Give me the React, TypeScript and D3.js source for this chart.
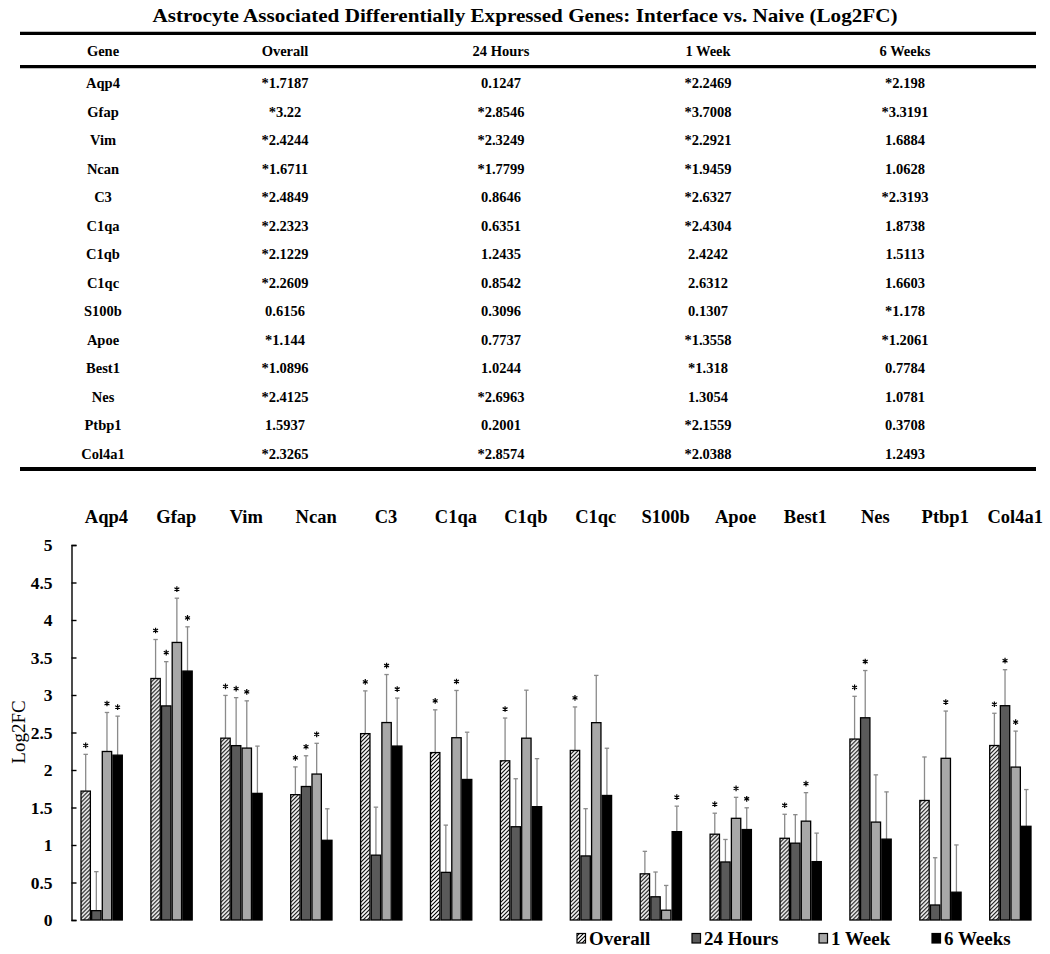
import React, { useEffect, useRef } from "react";
import * as d3 from "d3";

const genes = ["Aqp4", "Gfap", "Vim", "Ncan", "C3", "C1qa", "C1qb", "C1qc", "S100b", "Apoe", "Best1", "Nes", "Ptbp1", "Col4a1"];
const seriesNames = ["Overall", "24 Hours", "1 Week", "6 Weeks"];

const overall = [1.7187, 3.22, 2.4244, 1.6711, 2.4849, 2.2323, 2.1229, 2.2609, 0.6156, 1.144, 1.0896, 2.4125, 1.5937, 2.3265];
const hours24 = [0.1247, 2.8546, 2.3249, 1.7799, 0.8646, 0.6351, 1.2435, 0.8542, 0.3096, 0.7737, 1.0244, 2.6963, 0.2001, 2.8574];
const week1 = [2.2469, 3.7008, 2.2921, 1.9459, 2.6327, 2.4304, 2.4242, 2.6312, 0.1307, 1.3558, 1.318, 1.3054, 2.1559, 2.0388];
const weeks6 = [2.198, 3.3191, 1.6884, 1.0628, 2.3193, 1.8738, 1.5113, 1.6603, 1.178, 1.2061, 0.7784, 1.0781, 0.3708, 1.2493];

const overallSig = [true, true, true, true, true, true, true, true, false, true, true, true, false, true];
const hours24Sig = [false, true, true, true, false, false, false, false, false, false, false, true, false, true];
const week1Sig = [true, true, true, true, true, true, false, false, false, true, true, false, true, true];
const weeks6Sig = [true, true, false, false, true, false, false, false, true, true, false, false, false, false];

// error bar magnitudes (upper only)
const overallErr = [0.49, 0.52, 0.57, 0.37, 0.57, 0.57, 0.57, 0.58, 0.3, 0.28, 0.32, 0.57, 0.58, 0.43];
const hours24Err = [0.52, 0.59, 0.64, 0.41, 0.64, 0.63, 0.64, 0.63, 0.33, 0.3, 0.38, 0.63, 0.63, 0.48];
const week1Err = [0.52, 0.59, 0.63, 0.41, 0.64, 0.63, 0.64, 0.63, 0.33, 0.28, 0.38, 0.63, 0.63, 0.48];
const weeks6Err = [0.52, 0.59, 0.63, 0.42, 0.64, 0.63, 0.64, 0.63, 0.34, 0.29, 0.38, 0.63, 0.63, 0.49];

const yTicks = [0, 0.5, 1, 1.5, 2, 2.5, 3, 3.5, 4, 4.5, 5];

const title = "Astrocyte Associated Differentially Expressed Genes: Interface vs. Naive (Log2FC)";
const tableHeaders = ["Gene", "Overall", "24 Hours", "1 Week", "6 Weeks"];

const seriesValues = [overall, hours24, week1, weeks6];
const seriesSig = [overallSig, hours24Sig, week1Sig, weeks6Sig];
const seriesErr = [overallErr, hours24Err, week1Err, weeks6Err];
const seriesFill = ["url(#hatch)", "#5a5a5a", "#a8a8a8", "#000000"];

const TABLE_FONT = "'Liberation Serif', 'Times New Roman', serif";
const CHART_FONT = "'Liberation Serif', 'Times New Roman', serif";

export default function App() {
  const W = 1050;
  const H = 954;
  const yAxisRef = useRef<SVGGElement | null>(null);

  // table layout
  const colX = d3.scaleOrdinal<string, number>().domain(tableHeaders).range([103, 285, 501, 708, 905]);
  const rowY = d3.scaleLinear().domain([0, genes.length - 1]).range([88.3, 458.8]);

  // chart scales
  const y = d3.scaleLinear().domain([0, 5]).range([920, 545]);
  const xGene = d3.scaleBand<string>().domain(genes).range([71.5, 1050.1]);
  const xSeries = d3.scaleBand<string>().domain(seriesNames).range([9.5, 50.8]).paddingInner(0.12);
  const bw = xSeries.bandwidth();
  const asterisk = d3.symbol().type(d3.symbolAsterisk).size(22)() as string;

  useEffect(() => {
    if (!yAxisRef.current) return;
    const ax = d3
      .axisLeft(y)
      .tickValues(yTicks)
      .tickFormat((d) => String(d))
      .tickSizeInner(-5)
      .tickSizeOuter(-5)
      .tickPadding(19);
    const g = d3.select(yAxisRef.current);
    g.call(ax as any);
    g.attr("font-family", null).attr("font-size", null);
    g.select(".domain").attr("stroke", "#000").attr("stroke-width", 1.4);
    g.selectAll(".tick line").attr("stroke", "#000").attr("stroke-width", 1.4);
    g.selectAll(".tick text")
      .attr("font-family", CHART_FONT)
      .attr("font-size", 17.5)
      .attr("font-weight", "bold")
      .attr("fill", "#000");
  }, []);

  const fmt = (v: number, s: boolean) => `${s ? "*" : ""}${v}`;

  const legendX = [577, 692, 819, 932];

  return (
    <svg width={W} height={H} style={{ position: "absolute", left: 0, top: 0, background: "#fff" }}>
      <defs>
        <pattern id="hatch" patternUnits="userSpaceOnUse" width="4" height="4">
          <rect width="4" height="4" fill="#fff" />
          <path d="M-1,1 l2,-2 M0,4 l4,-4 M3,5 l2,-2" stroke="#000" strokeWidth="1.1" />
        </pattern>
      </defs>
      <rect width={W} height={H} fill="#fff" />

      {/* ---------- Table ---------- */}
      <text
        x={525}
        y={21.5}
        textAnchor="middle"
        fontFamily={TABLE_FONT}
        fontWeight="bold"
        fontSize={19.5}
        textLength={745}
        lengthAdjust="spacingAndGlyphs"
      >
        {title}
      </text>
      <line x1={20} x2={1036} y1={33.3} y2={33.3} stroke="#000" strokeWidth={3.2} />
      <line x1={20} x2={1036} y1={66.7} y2={66.7} stroke="#000" strokeWidth={3.2} />
      <line x1={20} x2={1036} y1={469} y2={469} stroke="#000" strokeWidth={4} />
      {tableHeaders.map((h) => (
        <text key={h} x={colX(h)} y={55.5} textAnchor="middle" fontFamily={TABLE_FONT} fontWeight="bold" fontSize={14.5}>
          {h}
        </text>
      ))}
      {genes.map((g, i) => (
        <g key={g} fontFamily={TABLE_FONT} fontWeight="bold" fontSize={14.5} textAnchor="middle">
          <text x={colX("Gene")} y={rowY(i)}>{g}</text>
          {seriesNames.map((s, si) => (
            <text key={s} x={colX(s)} y={rowY(i)}>
              {fmt(seriesValues[si][i], seriesSig[si][i])}
            </text>
          ))}
        </g>
      ))}

      {/* ---------- Chart ---------- */}
      {genes.map((g) => (
        <text
          key={g}
          x={(xGene(g) as number) + xGene.bandwidth() / 2}
          y={523}
          textAnchor="middle"
          fontFamily={CHART_FONT}
          fontWeight="bold"
          fontSize={18.5}
        >
          {g}
        </text>
      ))}

      <text
        transform={`translate(24.5,732) rotate(-90)`}
        textAnchor="middle"
        fontFamily={CHART_FONT}
        fontSize={19}
      >
        Log2FC
      </text>

      {genes.map((g, i) => (
        <g key={g} transform={`translate(${xGene(g)},0)`}>
          {seriesNames.map((s, si) => {
            const v = seriesValues[si][i];
            const e = seriesErr[si][i];
            const bx = xSeries(s) as number;
            const cx = bx + bw / 2;
            const top = y(v + e);
            return (
              <g key={s}>
                <line x1={cx} x2={cx} y1={y(v)} y2={top} stroke="#8a8a8a" strokeWidth={1.3} />
                <line x1={cx - 2.2} x2={cx + 2.2} y1={top} y2={top} stroke="#8a8a8a" strokeWidth={1.3} />
                <rect x={bx} y={y(v)} width={bw} height={y(0) - y(v)} fill={seriesFill[si]} stroke="#000" strokeWidth={1.3} />
                {seriesSig[si][i] && (
                  <path d={asterisk} transform={`translate(${cx},${top - 9})`} fill="none" stroke="#000" strokeWidth={1.2} />
                )}
              </g>
            );
          })}
        </g>
      ))}

      <g ref={yAxisRef} transform="translate(71.5,0)" />

      {/* legend */}
      {seriesNames.map((s, si) => (
        <g key={s} transform={`translate(${legendX[si]},0)`}>
          <rect x={0} y={933.5} width={8.5} height={9.5} fill={seriesFill[si]} stroke="#000" strokeWidth={1.2} />
          <text x={12} y={945} fontFamily={CHART_FONT} fontWeight="bold" fontSize={19}>
            {s}
          </text>
        </g>
      ))}
    </svg>
  );
}
